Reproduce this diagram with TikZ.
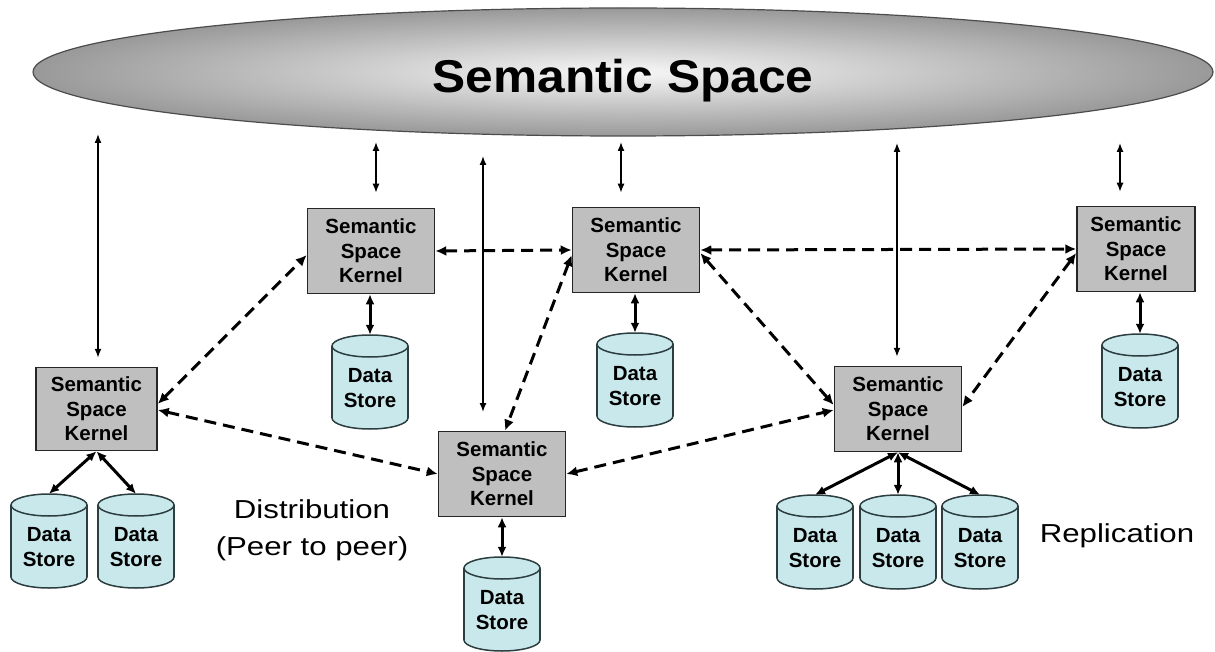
\documentclass[tikz,border=0pt]{standalone}
\usepackage{fontspec}
\setmainfont{Liberation Sans}
\usetikzlibrary{arrows.meta,shapes.geometric}
\definecolor{cylc}{RGB}{200,232,235}
\definecolor{cyld}{RGB}{45,62,64}
\tikzset{
 semspace/.style={ellipse, draw=black!70, line width=1.2pt, shade, inner color=white!97!black, outer color=black!40,
   minimum width=1180pt, minimum height=128pt, inner sep=0pt,
   font=\fontsize{46}{50}\selectfont\bfseries, text height=42pt, text depth=0pt},
 kernel/.style={draw=black!85, line width=1.5pt, fill=gray!50, minimum width=127pt, minimum height=85pt,
   inner sep=0pt, align=center, font=\fontsize{20.5}{24.5}\selectfont\bfseries},
 storebox/.style={minimum width=76pt, minimum height=94pt, inner sep=0pt},
 storetxt/.style={align=center, font=\fontsize{20.5}{24.5}\selectfont\bfseries, inner sep=0pt},
 cylfill/.style={fill=cylc, draw=cyld, line width=1.5pt},
 thinarrow/.style={line width=1.4pt, {Latex[length=9pt,width=7pt]}-{Latex[length=9pt,width=7pt]}},
 thickarrow/.style={line width=3pt, {Latex[length=10pt,width=9pt]}-{Latex[length=10pt,width=9pt]}},
 dasharrow/.style={line width=3pt, dash pattern=on 12pt off 7pt, {Latex[length=11pt,width=10pt]}-{Latex[length=11pt,width=10pt]}},
 biglabel/.style={font=\fontsize{26}{37}\selectfont, align=center, inner sep=0pt}
}
\newcommand\dstore[3]{%
 \filldraw[cylfill] (#2,#3+36) ellipse [x radius=38, y radius=11];
 \fill[cylc] (#2-38,#3-36) rectangle (#2+38,#3+36);
 \draw[cyld, line width=1.5pt] (#2-38,#3-36) -- (#2-38,#3+36) (#2+38,#3-36) -- (#2+38,#3+36);
 \filldraw[cylfill] (#2,#3-36) ellipse [x radius=38, y radius=11];
 \node[storebox] (#1) at (#2,#3) {};
 \node[storetxt] at ([yshift=-6pt]#1.center) {Data\\Store};
}
\begin{document}
\begin{tikzpicture}[x=1pt,y=-1pt]
\fill[white] (0,0) rectangle (1215,652);
\useasboundingbox (0,0) rectangle (1215,652);

% semantic space
\node[semspace] (SS) at (623,72) {\scalebox{1.08}[1]{Semantic Space}};

% kernels
\node[kernel, minimum width=121pt, minimum height=83pt] (K1) at (96.5,409) {Semantic\\Space\\Kernel};
\node[kernel] (K2) at (371,251) {Semantic\\Space\\Kernel};
\node[kernel] (K3) at (636,250) {Semantic\\Space\\Kernel};
\node[kernel, minimum width=118pt] (K4) at (1136,249) {Semantic\\Space\\Kernel};
\node[kernel] (K5) at (502,474) {Semantic\\Space\\Kernel};
\node[kernel] (K6) at (898,409) {Semantic\\Space\\Kernel};

% data stores
\dstore{D1a}{49}{541}
\dstore{D1b}{136}{541}
\dstore{D2}{370}{382}
\dstore{D3}{635}{380}
\dstore{D4}{1140}{381}
\dstore{D5}{502}{604}
\dstore{D6a}{815}{542}
\dstore{D6b}{898}{542}
\dstore{D6c}{980}{542}

% free ends of the thin arrows
\coordinate (t1) at (98,134);
\coordinate (t2) at (376,142);
\coordinate (t3a) at (483,156);
\coordinate (t3b) at (483,412);
\coordinate (t4) at (621,142);
\coordinate (t5) at (897,143);
\coordinate (t6) at (1120,143);

\draw[thinarrow, shorten >=9pt] (t1) -- (t1 |- K1.north);
\draw[thinarrow, shorten >=15pt] (t2) -- (t2 |- K2.north);
\draw[thinarrow] (t3a) -- (t3b);
\draw[thinarrow, shorten >=14pt] (t4) -- (t4 |- K3.north);
\draw[thinarrow, shorten >=9pt] (t5) -- (t5 |- K6.north);
\draw[thinarrow, shorten >=14pt] (t6) -- (t6 |- K4.north);

% kernel - store
\draw[thickarrow] (K1.south) -- (D1a.north);
\draw[thickarrow] (K1.south) -- (D1b.north);
\draw[thickarrow] (D2.north |- K2.south) -- (D2.north);
\draw[thickarrow] (D3.north |- K3.south) -- (D3.north);
\draw[thickarrow] (D4.north |- K4.south) -- (D4.north);
\draw[thickarrow] (K5.south) -- (D5.north);
\draw[thickarrow] (K6.south) -- (D6a.north);
\draw[thickarrow] (K6.south) -- (D6b.north);
\draw[thickarrow] (K6.south) -- (D6c.north);

% peer links
\draw[dasharrow] ([yshift=5pt]K1.east) -- ([yshift=-4pt]K2.west);
\draw[dasharrow] ([yshift=-1pt]K1.east) -- (K5.west);
\draw[dasharrow] (K2.east) -- (K3.west);
\draw[dasharrow] ([yshift=-5pt]K3.west) -- ([xshift=3pt]K5.north);
\draw[dasharrow] (K3.east) -- (K4.west);
\draw[dasharrow] ([yshift=-3pt]K3.east) -- ([yshift=4pt]K6.west);
\draw[dasharrow] (K5.east) -- ([yshift=-1pt]K6.west);
\draw[dasharrow] ([yshift=-4pt]K4.west) -- ([yshift=2pt]K6.east);

% labels
\node[biglabel] (dist) at (312,530) {\scalebox{1.2}[1]{Distribution}\\\scalebox{1.2}[1]{(Peer to peer)}};
\node[biglabel, anchor=base] (repl) at (1117,542) {\scalebox{1.2}[1]{Replication}};
\end{tikzpicture}
\end{document}
